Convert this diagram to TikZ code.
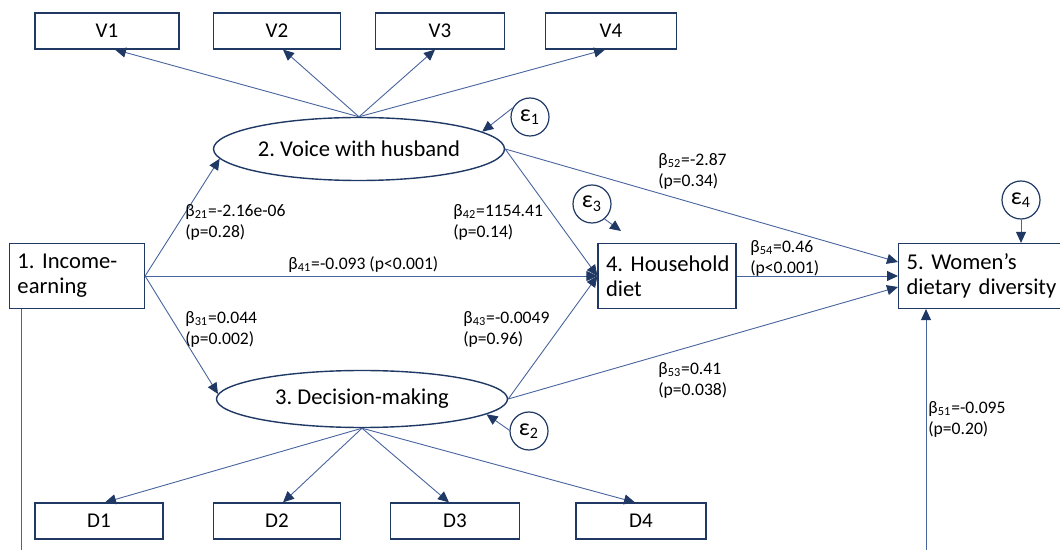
\documentclass[tikz,border=0pt]{standalone}
\usepackage{fontspec}
\setmainfont{Carlito}
\usetikzlibrary{arrows.meta,shapes.geometric}
\definecolor{navy}{RGB}{31,56,100}
\definecolor{pathblue}{RGB}{72,100,158}
\frenchspacing

\begin{document}
\begin{tikzpicture}[x=0.5pt,y=-0.5pt]
\tikzstyle{every node}+=[font=\fontsize{11.3}{12.5}\selectfont]
\tikzstyle{obs}=[draw=navy,line width=0.6pt,rectangle,minimum height=18pt,inner sep=0pt,font=\fontsize{10.5}{12.5}\selectfont]
\tikzstyle{lat}=[draw=navy,line width=0.7pt,ellipse,inner sep=0pt]
\tikzstyle{txtbox}=[draw=navy,line width=0.6pt,rectangle,align=left,inner xsep=4pt,inner ysep=0pt,minimum height=32.5pt]
\tikzstyle{err}=[draw=navy,line width=0.6pt,circle,minimum size=19pt,inner sep=0pt,font=\fontsize{12}{12}\selectfont]
\tikzstyle{coef}=[inner sep=0pt,anchor=west,align=left,font=\fontsize{8.8}{10.5}\selectfont]
\tikzstyle{link}=[draw=pathblue,line width=0.45pt]
\tikzstyle{arr}=[link,-{Triangle[length=5.5pt,width=5pt,color=navy]}]
\useasboundingbox (0,0) rectangle (1060,550);
\clip (0,0) rectangle (1060,550);
% indicators
\node[obs,minimum width=72pt] (V1) at (107,31) {V1};
\node[obs,minimum width=63.5pt] (V2) at (277,31) {V2};
\node[obs,minimum width=64.5pt] (V3) at (440,31) {V3};
\node[obs,minimum width=65.5pt] (V4) at (611,31) {V4};
\node[obs,minimum width=64pt] (D1) at (99,521) {D1};
\node[obs,minimum width=63.5pt] (D2) at (277,521) {D2};
\node[obs,minimum width=64.5pt] (D3) at (455,521) {D3};
\node[obs,minimum width=65pt] (D4) at (641,521) {D4};
% constructs
\node[lat,minimum width=145.5pt,minimum height=31.5pt] (voice) at (359,149) {2. Voice with husband};
\node[lat,minimum width=145.5pt,minimum height=28.5pt] (dec) at (362,399) {3. Decision-making};
\node[txtbox,text width=59.5pt] (inc) at (77,276) {\mbox{1. Income-}\\earning};
\node[txtbox,text width=61pt] (hh) at (667,276) {\mbox{4. Household}\\diet};
\node[txtbox,text width=92pt,anchor=west] (wd) at (898,276) {\mbox{5. Women’s}\\\mbox{dietary diversity}};
% errors
\node[err] (e1) at (530,117) {ε\textsubscript{1}};
\node[err] (e2) at (529,431) {ε\textsubscript{2}};
\node[err] (e3) at (592,204) {ε\textsubscript{3}};
\node[err] (e4) at (1021,200) {ε\textsubscript{4}};
\coordinate (e3tip) at (621,231);
\coordinate (incdown) at (21,555);
\coordinate (wdup) at (926,555);
% measurement
\foreach \v/\dx in {V1/4,V2/3,V3/-2.5,V4/-3}
  \draw[arr] (voice.north) -- ([xshift=\dx pt]\v.south);
\foreach \d/\dx in {D1/3,D2/3,D3/-3,D4/-3}
  \draw[arr] (dec.south) -- ([xshift=\dx pt]\d.north);
% structural paths
\draw[arr] (inc.east) -- (voice.184);
\draw[arr] (inc.east) -- (dec.178);
\draw[arr] (inc.east) -- (hh.west);
\draw[arr] (voice.east) -- (hh.west);
\draw[arr] (dec.east) -- (hh.west);
\draw[arr] (voice.east) -- ([yshift=7pt]wd.west);
\draw[arr] (hh.east) -- (wd.west);
\draw[arr] (dec.east) -- ([yshift=-5.5pt]wd.west);
\draw[link] (incdown |- inc.south) -- (incdown);
\draw[arr] (wdup) -- (wdup |- wd.south);
\draw[arr] (e1.152) -- (voice.8);
\draw[arr] (e2.178) -- (dec.-7);
\draw[arr] (e3.-50) -- (e3tip);
\draw[arr] (e4.south) -- (e4.south |- wd.north);
% coefficients
\node[coef] (b21) at (185,222) {β\textsubscript{21}=-2.16e-06\\(p=0.28)};
\node[coef] (b42) at (453,222) {β\textsubscript{42}=1154.41\\(p=0.14)};
\node[coef] (b41) at (288,265) {β\textsubscript{41}=-0.093 (p<0.001)};
\node[coef] (b31) at (185,329) {β\textsubscript{31}=0.044\\(p=0.002)};
\node[coef] (b43) at (463,329) {β\textsubscript{43}=-0.0049\\(p=0.96)};
\node[coef] (b52) at (658,171) {β\textsubscript{52}=-2.87\\(p=0.34)};
\node[coef] (b54) at (750,258) {β\textsubscript{54}=0.46\\(p<0.001)};
\node[coef] (b53) at (658,380) {β\textsubscript{53}=0.41\\(p=0.038)};
\node[coef] (b51) at (928,419) {β\textsubscript{51}=-0.095\\(p=0.20)};
\end{tikzpicture}
\end{document}
